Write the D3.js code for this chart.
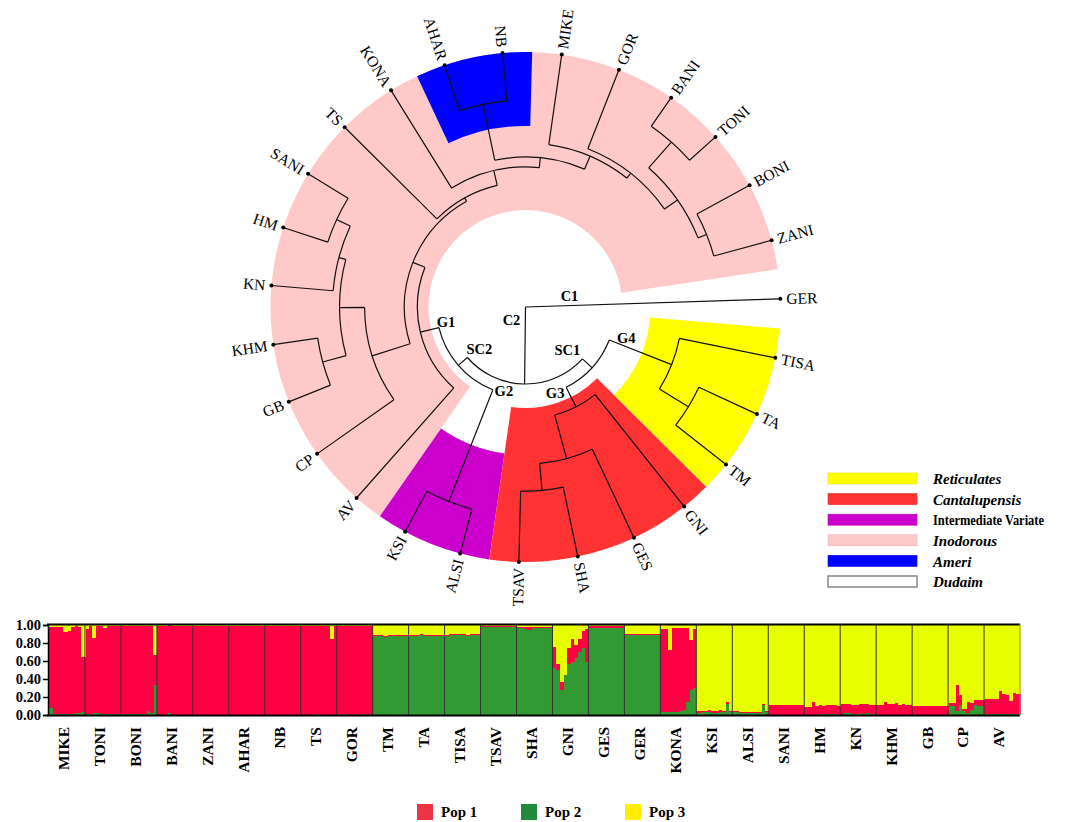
<!DOCTYPE html>
<html><head><meta charset="utf-8">
<script src="https://cdn.jsdelivr.net/npm/d3@7"></script>
<style>
body{margin:0;background:#fff}
svg{display:block}
text{font-family:"Liberation Serif","Times New Roman",serif;fill:#000}
</style>
</head><body>
<svg id="chart" width="1073" height="822"></svg>
<script>
// ================= DATA =================
// Dendrogram: node name, parent, distance from root (leaf = 1)
const nodeNames   = ["root","GER","C2","SC1","SC2","G4","G3","TISA","U","TA","TM","GNI","X","GES","Y","SHA","TSAV",
  "G2","G1","ALSI","KSI","AV","A","B","C","CP","K","T1","T2","GB","KHM","KN","T3","HM","SANI",
  "TS","J","KONA","L","Bl","M","AHAR","NB","MIKE","N","GOR","R","Q","S","BANI","TONI","BONI","ZANI"];
const nodeParents = ["","root","root","C2","C2","SC1","SC1","G4","G4","U","U","G3","G3","X","X","Y","Y",
  "SC2","SC2","G2","G2","G1","G1","A","A","B","B","K","K","T1","T1","T2","T2","T3","T3",
  "C","C","J","J","L","L","Bl","Bl","M","M","N","N","R","R","Q","Q","S","S"];
const nodeDepths  = [0,1,0.302,0.353,0.349,0.616,0.439,1,0.749,1,1,1,0.616,1,0.722,1,1,
  0.82,0.424,1,1,1,0.475,0.631,0.49,1,0.729,0.824,0.757,1,1,1,0.816,1,1,
  1,0.549,1,0.588,0.812,0.643,1,1,1,0.667,1,0.729,0.863,0.765,1,1,1,1];

// Internal branch labels and the branch they mark
const branchLabels   = ["C1","C2","SC1","SC2","G1","G2","G3","G4"];
const branchLabelFor = ["GER","C2","SC1","SC2","G1","G2","G3","G4"];

// Highlighted clades
const cladeNames      = ["Inodorous","Ameri","Intermediate Variate","Cantalupensis","Reticulates"];
const cladeFirstLeaf  = ["AV","AHAR","ALSI","GNI","TISA"];
const cladeLastLeaf   = ["ZANI","NB","KSI","TSAV","TM"];
const cladeInnerDepth = [0.38,0.71,0.58,0.396,0.49];

const legendNames  = ["Reticulates","Cantalupensis","Intermediate Variate","Inodorous","Ameri","Dudaim"];
const legendItalic = [true,true,false,true,true,true];

// STRUCTURE plot (percent membership per individual)
const groups = ["MIKE","TONI","BONI","BANI","ZANI","AHAR","NB","TS","GOR","TM","TA","TISA","TSAV","SHA",
  "GNI","GES","GER","KONA","KSI","ALSI","SANI","HM","KN","KHM","GB","CP","AV"];
const pop1 = [
 [90,97,97,97,91,92,97,97,96,62],[95,98,84,97,98,96,98,98,98,98],[98,98,98,98,98,98,98,95,97,34],
 [99,99,99,98,99,99,99,99,99,99],[99,99,99,99,99,99,99,99,99,99],[99,99,99,99,99,99,99,99,99,99],
 [99,99,99,99,99,99,99,99,99,99],[99,99,99,99,98,99,99,99,85,99],[98,99,98,99,99,98,99,98,99,98],
 [1,1,1,1,1,1,1,1,1,1],[1,1,1,1,1,1,1,1,1,1],[1,1,1,1,1,1,1,1,1,1],
 [1,1,1,1,1,1,1,1,1,1],[1,1,2,3,1,1,1,1,1,1],[24,7,9,0,17,26,15,15,19,37],
 [2,2,2,2,2,2,2,2,2,2],[1,1,1,1,1,1,1,1,1,1],[93,93,69,94,94,93,91,82,55,66],
 [3,2,2,3,3,3,3,2,3,2],[1,1,1,1,1,1,1,1,1,1],[11,11,11,11,11,11,11,11,11,11],
 [9,9,14,10,10,9,10,10,10,9],[12,10,10,10,10,10,11,10,10,10],[11,11,14,12,12,13,11,12,11,11],
 [10,10,10,10,10,10,10,10,10,10],[3,3,28,11,3,13,7,6,7,7],[17,17,17,17,26,22,21,15,23,22]];
const pop2 = [
 [8,1,1,1,1,1,1,2,2,3],[1,1,2,2,1,1,1,1,1,1],[1,1,1,1,1,1,1,4,2,33],
 [0,0,0,2,0,0,0,0,0,0],[0,0,0,0,0,0,0,0,0,0],[0,0,0,0,0,0,0,0,0,0],
 [0,0,0,0,0,0,0,0,0,0],[0,0,0,0,1,0,0,0,0,0],[1,0,1,0,0,1,0,1,0,1],
 [88,88,88,87,88,88,88,88,88,88],[88,88,88,89,88,88,88,88,88,88],[88,89,89,89,89,89,88,89,89,89],
 [98,98,98,98,98,98,98,98,98,98],[97,97,96,95,97,97,97,97,97,97],[52,50,28,44,57,59,63,70,74,59],
 [97,97,97,97,97,97,97,97,97,97],[89,89,89,89,89,89,89,89,89,89],[3,3,3,3,3,4,6,15,28,30],
 [2,3,3,3,2,2,3,3,12,3],[3,3,2,2,2,2,2,2,11,3],[0,0,0,0,0,0,0,0,0,0],
 [0,0,0,0,1,1,1,1,1,1],[0,2,2,1,1,2,1,2,1,1],[0,0,0,0,0,0,0,0,0,0],
 [0,0,0,0,0,0,0,0,0,0],[10,10,5,11,4,2,6,11,10,10],[1,1,1,1,1,1,1,1,1,1]];
const pop3 = [
 [2,2,2,2,8,7,2,1,2,35],[4,1,14,1,1,3,1,1,1,1],[1,1,1,1,1,1,1,1,1,33],
 [1,1,1,0,1,1,1,1,1,1],[1,1,1,1,1,1,1,1,1,1],[1,1,1,1,1,1,1,1,1,1],
 [1,1,1,1,1,1,1,1,1,1],[1,1,1,1,1,1,1,1,15,1],[1,1,1,1,1,1,1,1,1,1],
 [11,11,11,12,11,11,11,11,11,11],[11,11,11,10,11,11,11,11,11,11],[11,10,10,10,10,10,11,10,10,10],
 [1,1,1,1,1,1,1,1,1,1],[2,2,2,2,2,2,2,2,2,2],[24,43,63,56,26,15,22,15,7,4],
 [1,1,1,1,1,1,1,1,1,1],[10,10,10,10,10,10,10,10,10,10],[4,4,28,3,3,3,3,3,17,4],
 [95,95,95,94,95,95,94,95,85,95],[96,96,97,97,97,97,97,97,88,96],[89,89,89,89,89,89,89,89,89,89],
 [91,91,86,90,89,90,89,89,89,90],[88,88,88,89,89,88,88,88,89,89],[89,89,86,88,88,87,89,88,89,89],
 [90,90,90,90,90,90,90,90,90,90],[87,87,67,78,93,85,87,83,83,83],[82,82,82,82,73,77,78,84,76,77]];
const yTicks = [0,0.2,0.4,0.6,0.8,1.0];
const popNames = ["Pop 1","Pop 2","Pop 3"];

// ================= STYLE =================
const cladeColors  = {"Inodorous":"#FFC9C9","Ameri":"#0000FF","Intermediate Variate":"#CC00CC","Cantalupensis":"#FF3333","Reticulates":"#FFFF00","Dudaim":"#FFFFFF"};
const barColors    = {p1:"#FF0044", p2:"#339933", p3:"#E8FF00"};
const popLegColors = ["#EE3344","#1E8B3C","#FFEE00"];
const labelOffsets = {C1:[44,-11],C2:[-14,13],SC1:[-15,-9],SC2:[12,-9],G1:[7,-6],G2:[11,1],G3:[-11,6],G4:[17,-2]};

// ================= DENDROGRAM =================
const svg = d3.select("#chart");
const cx = 525.5, cy = 307, R = 255, angleOffset = 81.5;
const rows = nodeNames.map((n,i)=>({id:n,parent:nodeParents[i],depth:nodeDepths[i]}));
const root = d3.stratify().id(d=>d.id).parentId(d=>d.parent)(rows);
d3.cluster().size([360,1]).separation(()=>1)(root);
const rScale = d3.scaleLinear().domain([0,1]).range([0,R]);
root.each(n=>{ n.theta = n.x + angleOffset; n.r = rScale(n.data.depth); });
const byId = new Map(root.descendants().map(n=>[n.id,n]));
const nLeaves = root.leaves().length, step = 360/nLeaves;
const rad = a => a*Math.PI/180;
function pt(theta,r){ const a = rad(theta-90); return [cx + r*Math.cos(a), cy + r*Math.sin(a)]; }

const gTree = svg.append("g").attr("transform",`translate(${cx},${cy})`);
// clade sectors
const arcGen = d3.arc();
cladeNames.forEach((c,i)=>{
  const f = byId.get(cladeFirstLeaf[i]), l = byId.get(cladeLastLeaf[i]);
  gTree.append("path")
    .attr("d", arcGen({innerRadius:rScale(cladeInnerDepth[i]), outerRadius:R,
        startAngle:rad(f.theta-step/2), endAngle:rad(l.theta+step/2)}))
    .attr("fill", cladeColors[c]);
});

// branches
const p = d3.path();
root.descendants().forEach(n=>{
  if(n.parent){
    const [x0,y0] = pt(n.theta, n.parent.r), [x1,y1] = pt(n.theta, n.r);
    p.moveTo(x0,y0); p.lineTo(x1,y1);
  }
  if(n.children && n.r>0){
    const a0 = n.children[0].theta, a1 = n.children[n.children.length-1].theta;
    const [sx,sy] = pt(a0,n.r);
    p.moveTo(sx,sy);
    p.arc(cx,cy,n.r,rad(a0-90),rad(a1-90),false);
  }
});
svg.append("path").attr("d",p.toString()).attr("fill","none").attr("stroke","#111").attr("stroke-width",1.2);

// leaf dots & labels
svg.selectAll(".dot").data(root.leaves()).join("circle")
  .attr("cx",d=>pt(d.theta,R)[0]).attr("cy",d=>pt(d.theta,R)[1]).attr("r",2).attr("fill","#000");
gTree.selectAll(".leafLbl").data(root.leaves()).join("text")
  .attr("transform",d=>{ const t = d.theta%360; return `rotate(${d.theta-90}) translate(${R+6},0)` + (t>180?" rotate(180)":""); })
  .attr("text-anchor",d=> (d.theta%360)>180 ? "end":"start")
  .attr("dy","0.35em").attr("font-size",15.5).text(d=>d.id);

// branch labels
branchLabels.forEach((lab,i)=>{
  const n = byId.get(branchLabelFor[i]);
  const [x,y] = pt(n.theta, n.parent.r);
  const o = labelOffsets[lab];
  svg.append("text").attr("x",x+o[0]).attr("y",y+o[1]).attr("text-anchor","middle").attr("dy","0.35em")
    .attr("font-size",14.5).attr("font-weight","bold").text(lab);
});

// clade legend
const legY = d3.scaleLinear().domain([0,legendNames.length-1]).range([473,576]);
legendNames.forEach((nm,i)=>{
  svg.append("rect").attr("x",828).attr("y",legY(i)).attr("width",89).attr("height",11)
    .attr("fill",cladeColors[nm]).attr("stroke", nm==="Dudaim" ? "#888" : d3.color(cladeColors[nm]).darker(0.3))
    .attr("stroke-width", nm==="Dudaim"?1.5:0.6);
  const t = svg.append("text").attr("x",933).attr("y",legY(i)+6).attr("dy","0.35em")
    .attr("font-size",legendItalic[i]?15:14)
    .attr("font-weight","bold").attr("font-style",legendItalic[i]?"italic":"normal").text(nm);
  if(!legendItalic[i]) t.attr("textLength",111).attr("lengthAdjust","spacingAndGlyphs");
});

// ================= STRUCTURE BAR PLOT =================
const x = d3.scaleBand().domain(groups).range([49,1020]);
const y = d3.scaleLinear().domain([0,1]).range([715,625]);
const indiv = [];
groups.forEach((g,gi)=>{
  pop1[gi].forEach((v,j)=>{ indiv.push({group:g, j, n:pop1[gi].length, p2:pop2[gi][j]/100, p1:v/100, p3:pop3[gi][j]/100}); });
});
const stack = d3.stack().keys(["p2","p1","p3"])(indiv);
const gBars = svg.append("g").attr("shape-rendering","crispEdges");
stack.forEach(layer=>{
  gBars.selectAll(null).data(layer).join("rect")
    .attr("x",d=> x(d.data.group) + d.data.j*x.bandwidth()/d.data.n)
    .attr("width",d=> x.bandwidth()/d.data.n + 0.6)
    .attr("y",d=> y(d[1])).attr("height",d=> Math.max(0,y(d[0])-y(d[1])))
    .attr("fill", barColors[layer.key]);
});
// group separators
svg.selectAll(".sep").data(groups.slice(1)).join("line")
  .attr("x1",d=>x(d)).attr("x2",d=>x(d)).attr("y1",625).attr("y2",715)
  .attr("stroke","#333").attr("stroke-width",1);
svg.append("line").attr("x1",47).attr("x2",1020).attr("y1",y(1)-0.5).attr("y2",y(1)-0.5).attr("stroke","#000").attr("stroke-width",2);
svg.append("line").attr("x1",47).attr("x2",1020).attr("y1",y(0)+0.5).attr("y2",y(0)+0.5).attr("stroke","#000").attr("stroke-width",2);
svg.append("line").attr("x1",1020).attr("x2",1020).attr("y1",624).attr("y2",716).attr("stroke","#999").attr("stroke-width",1);
// y axis
const ax = svg.append("g").attr("transform","translate(48,0)")
  .call(d3.axisLeft(y).tickValues(yTicks).tickFormat(d3.format(".2f")).tickSize(5).tickPadding(2));
ax.select(".domain").attr("stroke","#000").attr("stroke-width",1.5);
ax.selectAll(".tick line").attr("stroke","#000").attr("stroke-width",1.5);
ax.selectAll("text").attr("font-family","Liberation Serif").attr("font-size",14.5).attr("font-weight","bold").attr("fill","#000");
// group labels
svg.selectAll(".glbl").data(groups).join("text")
  .attr("transform",d=>`translate(${x(d)+x.bandwidth()/2-3},727) rotate(-90)`)
  .attr("text-anchor","end").attr("dy","0.35em").attr("font-size",15.5).attr("font-weight","bold").text(d=>d);

// population legend
const popX = d3.scalePoint().domain(popNames).range([417,625]);
popNames.forEach((nm,i)=>{
  svg.append("rect").attr("x",popX(nm)).attr("y",804).attr("width",16).attr("height",16).attr("fill",popLegColors[i]);
  svg.append("text").attr("x",popX(nm)+24).attr("y",812).attr("dy","0.35em").attr("font-size",15).attr("font-weight","bold").text(nm);
});
</script>
</body></html>
